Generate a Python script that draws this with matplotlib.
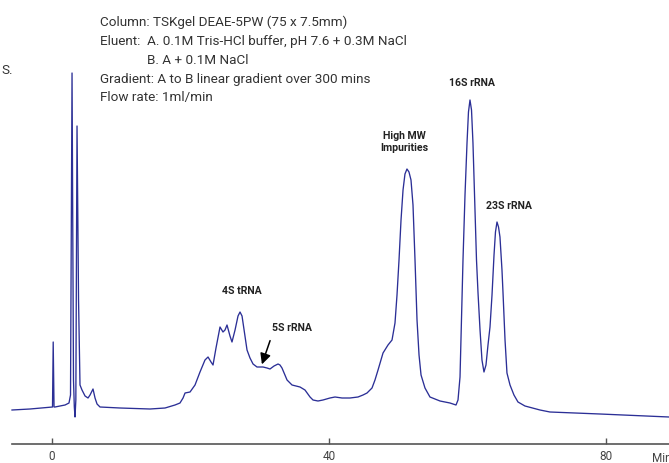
import matplotlib.pyplot as plt

# chromatogram trace (time in min, absorbance in arbitrary units)
time_min = [-5.78, -3.18, 0.00, 0.07, 0.17, 0.29, 0.43, 1.88, 2.45, 2.67, 2.89, 3.10,
            3.22, 3.32, 3.44, 3.61, 3.83, 4.04, 4.33, 4.77, 5.20, 5.49, 5.92, 6.21,
            6.50, 6.93, 9.82, 14.15, 16.32, 17.76, 18.48, 18.92, 19.21, 19.93, 20.65,
            21.37, 22.09, 22.53, 22.96, 23.25, 23.68, 24.26, 24.69, 24.98, 25.27, 25.70,
            25.99, 26.43, 26.86, 27.15, 27.44, 27.73, 28.16, 28.59, 29.03, 29.60, 30.47,
            31.05, 31.48, 32.06, 32.64, 32.92, 33.21, 33.94, 34.66, 35.81, 36.53, 37.26,
            37.69, 38.41, 39.13, 40.14, 40.87, 41.88, 43.03, 44.19, 44.91, 45.49, 46.21,
            46.64, 47.08, 47.80, 48.52, 49.10, 49.53, 49.82, 50.11, 50.40, 50.69, 50.97,
            51.26, 51.55, 51.84, 52.13, 52.42, 52.71, 53.00, 53.29, 53.86, 54.58, 56.03,
            57.47, 58.34, 58.63, 58.92, 59.13, 59.35, 59.64, 59.93, 60.14, 60.36, 60.58,
            60.79, 61.08, 61.30, 61.52, 61.81, 62.09, 62.38, 62.67, 62.96, 63.25, 63.54,
            63.83, 64.04, 64.26, 64.48, 64.69, 64.98, 65.13, 65.42, 65.70, 66.14, 66.71,
            67.29, 68.30, 70.47, 71.91, 79.13, 89.10]
absorbance = [0, 1, 3, 3, 68, 3, 3, 5, 7, 15, 337, 30,
              3, -7, 10, 284, 110, 25, 20, 14, 12, 15, 21, 12,
              6, 3, 2, 1, 2, 5, 7, 12, 17, 18, 25,
              38, 50, 53, 48, 45, 62, 83, 78, 80, 85, 74,
              68, 80, 94, 98, 94, 80, 60, 52, 46, 43, 43,
              42, 41, 44, 46, 45, 42, 30, 25, 23, 20, 13,
              10, 9, 10, 12, 13, 12, 12, 13, 15, 17, 22,
              30, 40, 57, 65, 70, 87, 115, 150, 190, 220, 236,
              241, 238, 230, 205, 150, 90, 55, 35, 22, 13, 9,
              7, 5, 10, 33, 90, 150, 215, 267, 298, 310, 300,
              267, 200, 150, 117, 80, 50, 38, 45, 65, 83, 115,
              155, 178, 188, 183, 173, 140, 117, 70, 37, 25, 15,
              8, 4, 0, -2, -4, -7]

xticks = [0, 40, 80]

header_lines = [
    ("Column: TSKgel DEAE-5PW (75 x 7.5mm)", 100, 22),
    ("Eluent:  A. 0.1M Tris-HCl buffer, pH 7.6 + 0.3M NaCl", 100, 41),
    ("B. A + 0.1M NaCl", 147, 60),
    ("Gradient: A to B linear gradient over 300 mins", 100, 79),
    ("Flow rate: 1ml/min", 100, 97),
]

W, H = 669, 463
plt.rcParams['font.family'] = ['Roboto', 'DejaVu Sans']

fig = plt.figure(figsize=(W / 100, H / 100), dpi=100)
ax = fig.add_axes([12 / W, 19 / H, 657 / W, 444 / H])

ax.plot(time_min, absorbance, color='#2B2F96', lw=0.95, clip_on=False)

ax.set_xlim(-5.78, 89.1)
ax.set_ylim(-34, 410)
for side in ['left', 'right', 'top']:
    ax.spines[side].set_visible(False)
ax.spines['bottom'].set_color('#555555')
ax.spines['bottom'].set_linewidth(1.2)
ax.set_yticks([])
ax.set_xticks(xticks)
ax.tick_params(axis='x', direction='in', length=4, width=1, color='#555555',
               labelsize=8.5, labelcolor='#444444', pad=4)

# peak labels
lab = dict(fontsize=7.6, fontweight='bold', color='#222222', ha='center', va='center')
ax.text(60.65, 327, "16S rRNA", **lab)
ax.text(50.83, 268, "High MW\nImpurities", linespacing=1.35, **lab)
ax.text(66.0, 204, "23S rRNA", **lab)
ax.text(27.44, 119, "4S tRNA", **lab)
ax.text(34.66, 82, "5S rRNA", **lab)
ax.annotate('', xy=(30.18, 43), xytext=(31.62, 72),
            arrowprops=dict(arrowstyle='-|>', color='black', lw=1.1, mutation_scale=16))

for txt, px, py in header_lines:
    fig.text(px / W, 1 - py / H, txt, fontsize=9.7, color='#333333', ha='left', va='center')
fig.text(1 / W, 1 - 71 / H, "S.", fontsize=9.7, color='#333333', ha='left', va='center')
fig.text(652 / W, 1 - 458 / H, "Min", fontsize=8.5, color='#444444', ha='left', va='center')

fig.savefig('out.png', dpi=100)
